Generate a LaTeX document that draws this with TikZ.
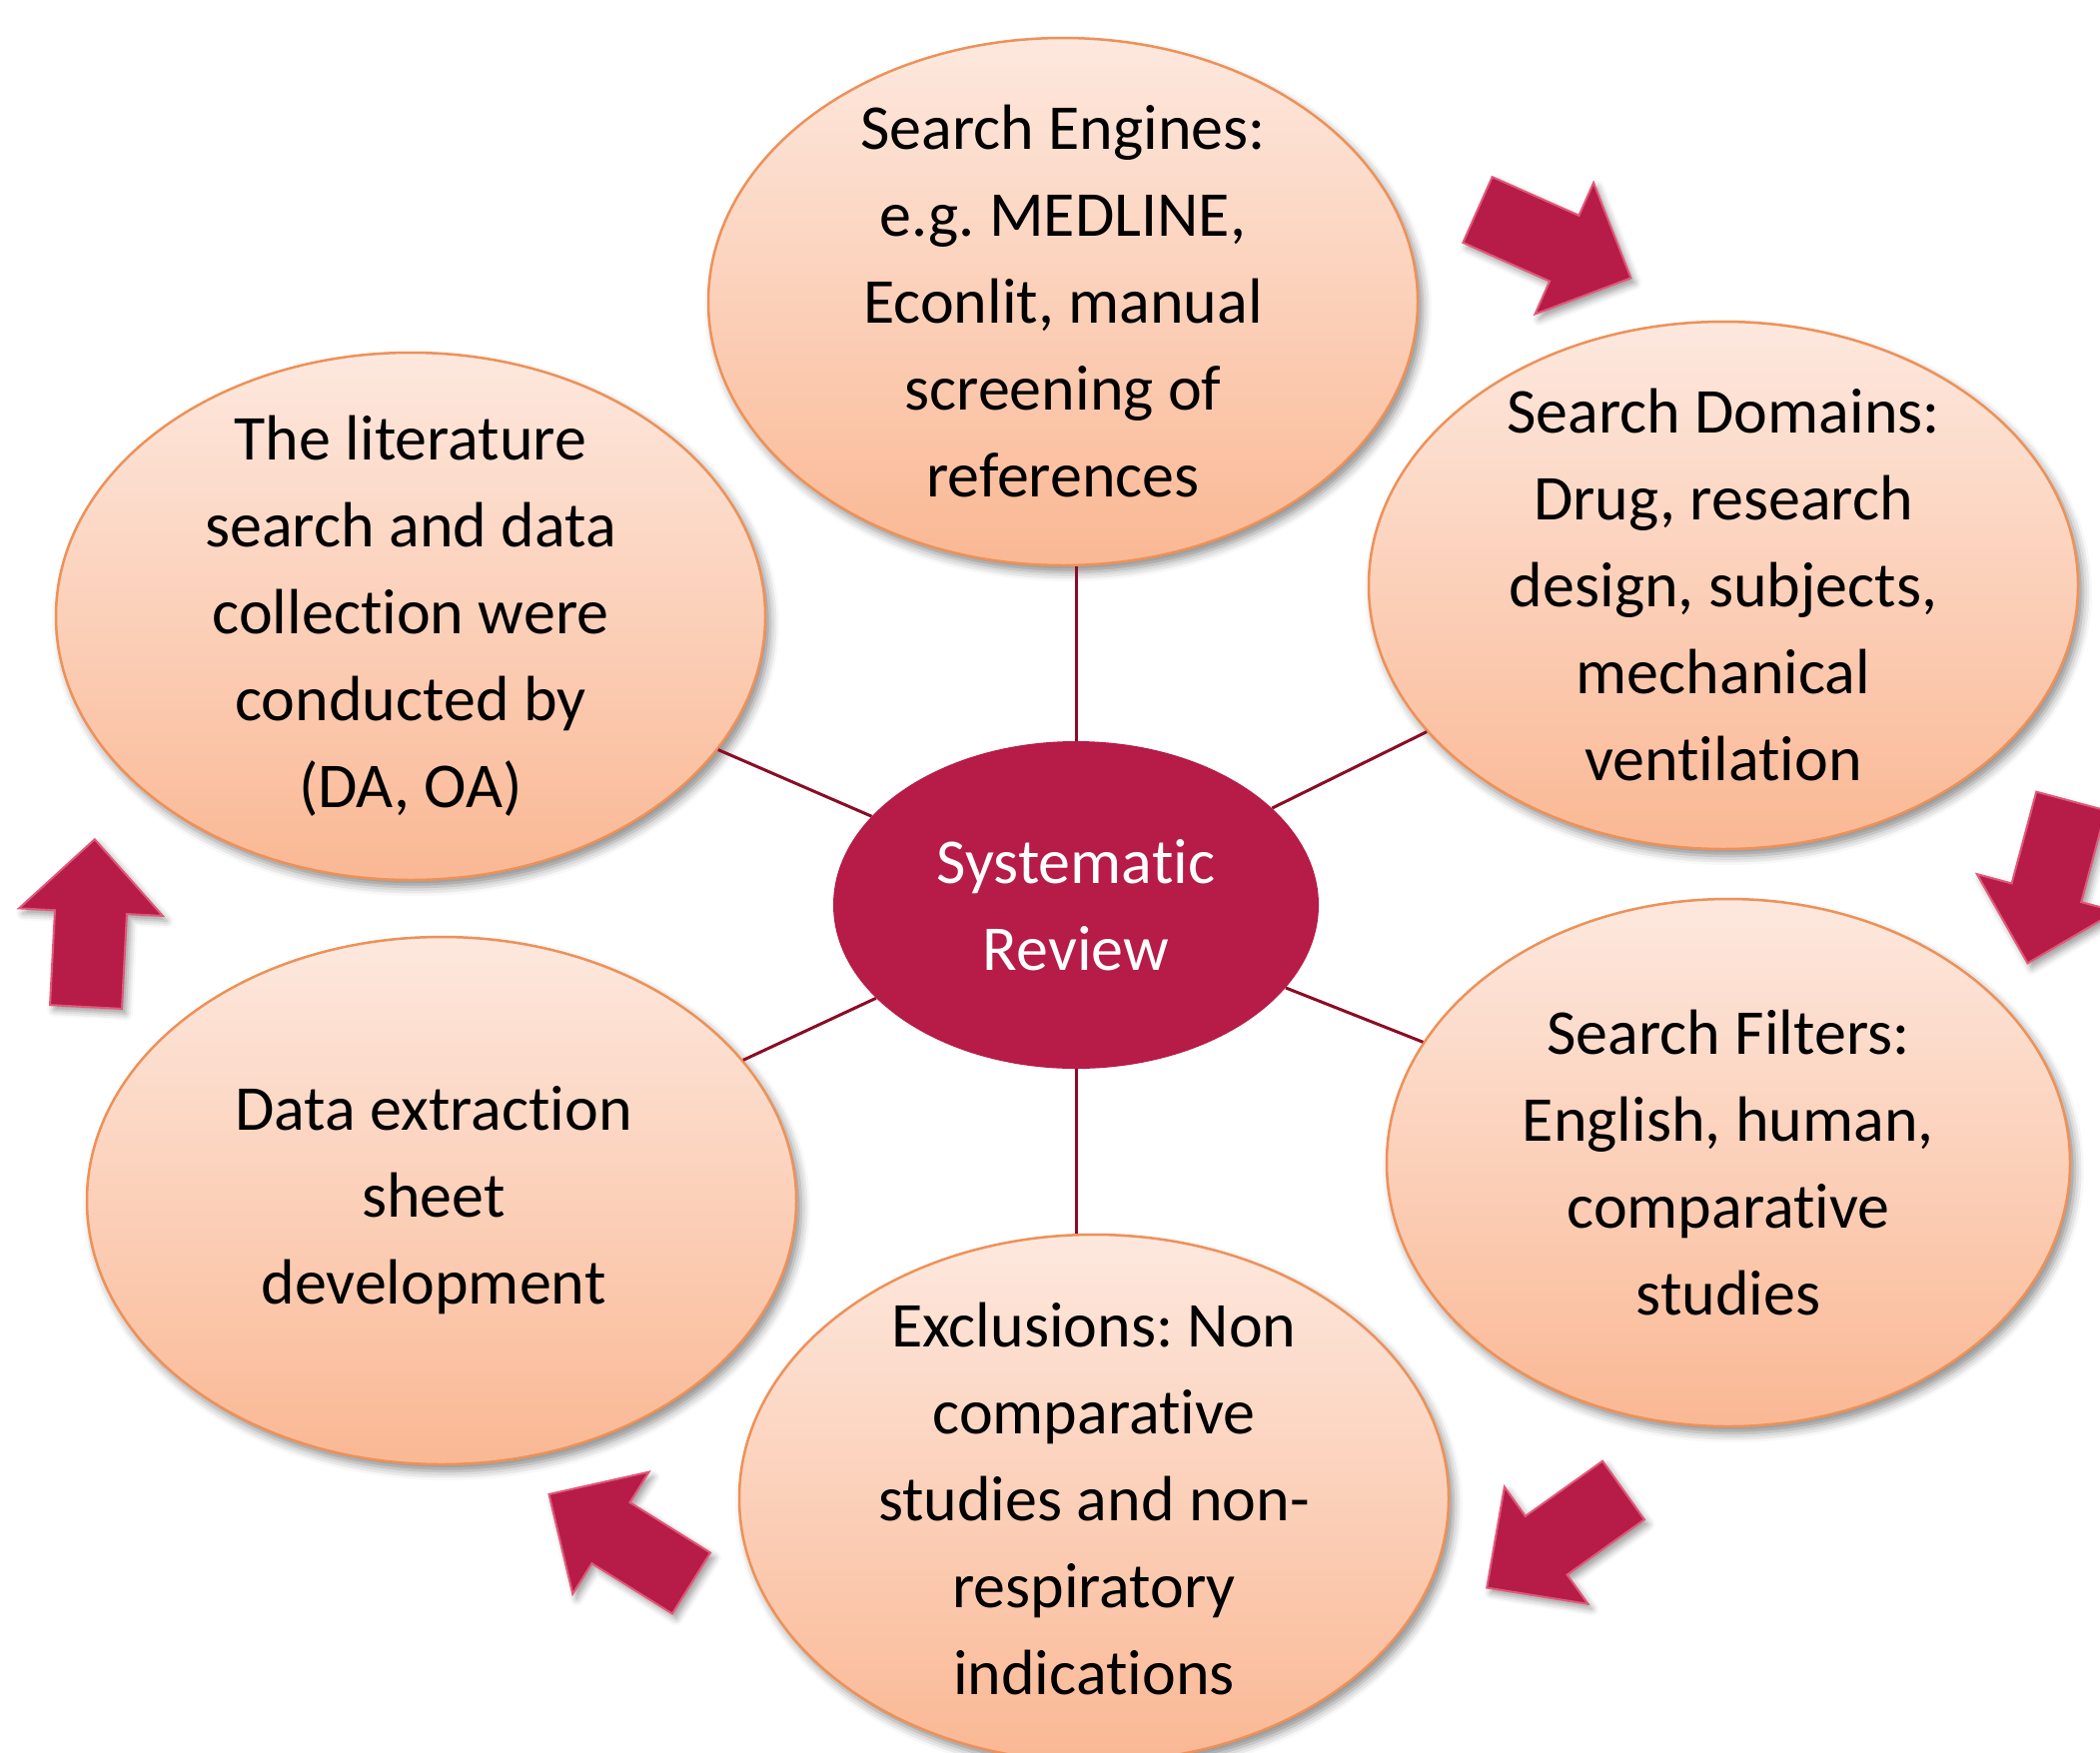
\documentclass[tikz,border=0pt]{standalone}
\usepackage{fontspec}
\setmainfont{Carlito}[Ligatures=NoCommon]
\usetikzlibrary{shapes.geometric,shadows.blur}
\frenchspacing

\definecolor{peachtop}{RGB}{253,232,222}
\definecolor{peachbot}{RGB}{250,184,148}
\definecolor{peachline}{RGB}{238,145,88}
\definecolor{crimson}{RGB}{183,27,72}
\definecolor{crimsonedge}{RGB}{224,88,120}
\definecolor{spoke}{RGB}{140,12,36}

\newcommand\bodyfont{\fontsize{64}{87}\selectfont}

\tikzset{
  bubble/.style={ellipse, draw=peachline, line width=2.5pt,
    top color=peachtop, bottom color=peachbot,
    minimum width=710pt, minimum height=528pt, inner sep=0pt,
    blur shadow={shadow xshift=5pt, shadow yshift=-7pt,
      shadow blur radius=9pt, shadow opacity=45}},
  hub/.style={ellipse, fill=crimson, minimum width=486pt,
    minimum height=328pt, inner sep=0pt, text=white, align=center,
    font=\bodyfont},
  bubbletext/.style={align=center, font=\bodyfont, text=black, inner sep=0pt},
  spokeline/.style={draw=spoke, line width=3pt},
  blockarrow/.style={fill=crimson, draw=crimsonedge, line width=2pt,
    line join=miter,
    blur shadow={shadow xshift=4pt, shadow yshift=-5pt,
      shadow blur radius=7pt, shadow opacity=40}},
}

% block arrow: tail centre (#1,#2), pointing at angle #3
\newcommand\cyclearrow[3]{%
  \path[blockarrow]
    ([shift={(#1,#2)},rotate=#3]0,36)
    -- ([shift={(#1,#2)},rotate=#3]95,36)
    -- ([shift={(#1,#2)},rotate=#3]95,72)
    -- ([shift={(#1,#2)},rotate=#3]168,0)
    -- ([shift={(#1,#2)},rotate=#3]95,-72)
    -- ([shift={(#1,#2)},rotate=#3]95,-36)
    -- ([shift={(#1,#2)},rotate=#3]0,-36)
    -- cycle;}

\begin{document}
\begin{tikzpicture}[x=1pt, y=1pt]
  \useasboundingbox (0,0) rectangle (2102,-1754);

  % outer bubbles
  \node[bubble] (se) at (1064,-302) {};
  \node[bubble] (sd) at (1725,-586) {};
  \node[bubble, minimum width=684pt] (sf) at (1730,-1164) {};
  \node[bubble] (ex) at (1095,-1500) {};
  \node[bubble] (dx) at (442,-1202) {};
  \node[bubble] (lt) at (411,-617) {};

  % hub
  \node[hub] (c) at (1077,-906) {Systematic\\Review};

  % spokes
  \draw[spokeline] (c.north) -- (c.north |- se.south);
  \draw[spokeline] (c.south) -- (c.south |- ex.north);
  \draw[spokeline] (c) -- (sd);
  \draw[spokeline] (c) -- (sf);
  \draw[spokeline] (c) -- (dx);
  \draw[spokeline] (c) -- (lt);

  % bubble texts
  \node[bubbletext] (se-t) at (se) {Search Engines:\\e.g. MEDLINE,\\Econlit, manual\\screening of\\references};
  \node[bubbletext] (sd-t) at (sd) {Search Domains:\\Drug, research\\design, subjects,\\mechanical\\ventilation};
  \node[bubbletext] (sf-t) at (sf) {Search Filters:\\English, human,\\comparative\\studies};
  \node[bubbletext] (ex-t) at (ex) {Exclusions: Non\\comparative\\studies and non-\\respiratory\\indications};
  \node[bubbletext] (dx-t) at ([xshift=-8pt]dx) {Data extraction\\sheet\\development};
  \node[bubbletext] (lt-t) at (lt) {The literature\\search and data\\collection were\\conducted by\\(DA, OA)};

  % cycle arrows
  \cyclearrow{1479}{-210}{-24}
  \cyclearrow{2073}{-802}{-105}
  \cyclearrow{1625}{-1492}{-144.5}
  \cyclearrow{692}{-1585}{148}
  \cyclearrow{86}{-1008}{87}
\end{tikzpicture}
\end{document}
